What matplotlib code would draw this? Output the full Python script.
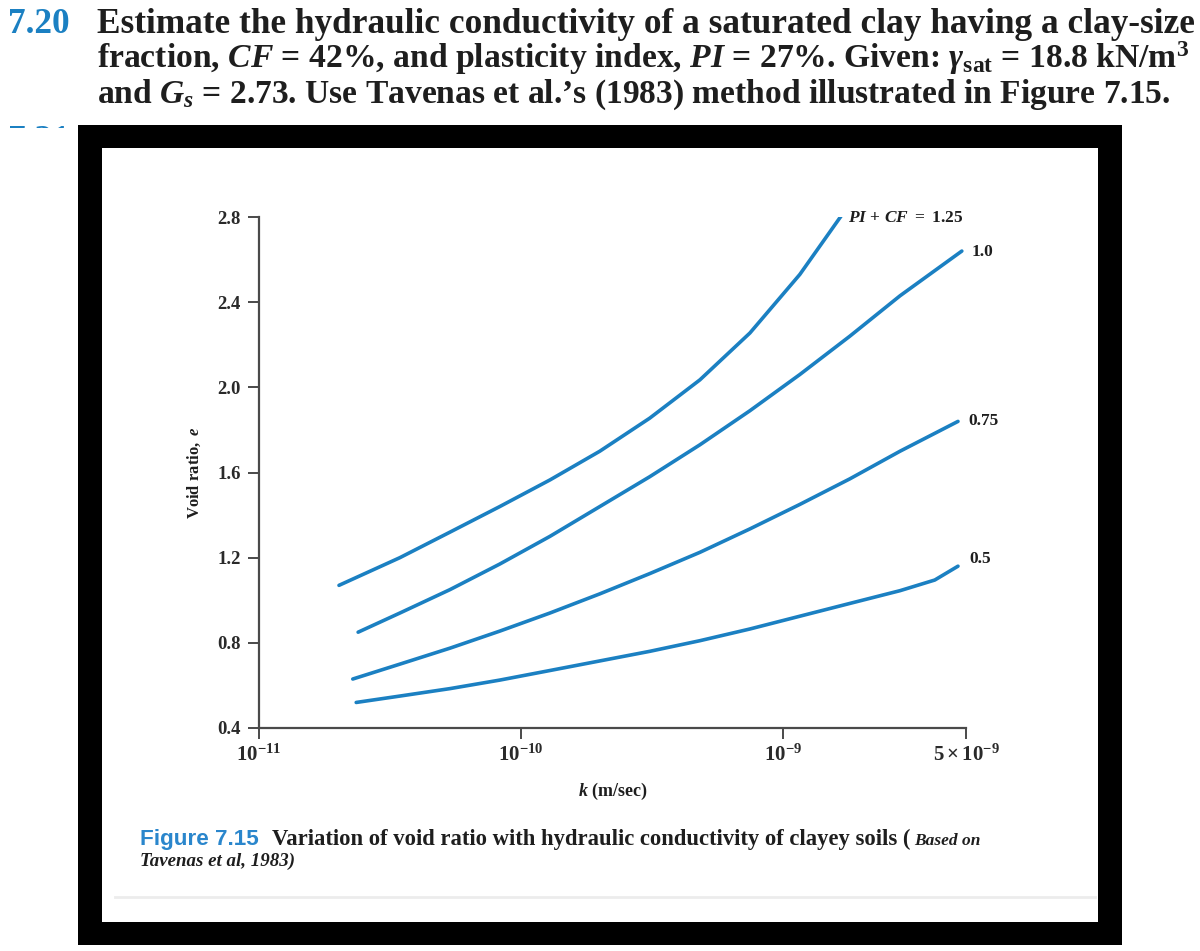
import matplotlib
matplotlib.use('Agg')
import matplotlib.pyplot as plt
from matplotlib.patches import Rectangle
from matplotlib.lines import Line2D
from matplotlib.ticker import NullLocator

plt.rcParams['font.family'] = ['Liberation Serif', 'DejaVu Serif']
plt.rcParams['font.weight'] = 'bold'
plt.rcParams['mathtext.fontset'] = 'custom'
plt.rcParams['mathtext.rm'] = 'Liberation Serif:bold'
plt.rcParams['mathtext.it'] = 'Liberation Serif:italic:bold'
plt.rcParams['mathtext.bf'] = 'Liberation Serif:bold'
plt.rcParams['mathtext.default'] = 'it'

# curves: hydraulic conductivity k (m/sec) vs void ratio e, one per PI + CF value
k_125 = [2.02e-11, 3.45e-11, 5.36e-11, 8.3e-11, 1.29e-10, 2.0e-10, 3.1e-10, 4.82e-10, 7.48e-10, 1.16e-9, 1.68e-9]
e_125 = [1.07, 1.20, 1.32, 1.44, 1.565, 1.70, 1.855, 2.035, 2.255, 2.53, 2.81]

k_100 = [2.39e-11, 3.45e-11, 5.36e-11, 8.3e-11, 1.29e-10, 2.0e-10, 3.1e-10, 4.82e-10, 7.48e-10, 1.16e-9, 1.8e-9, 2.8e-9, 4.82e-9]
e_100 = [0.85, 0.94, 1.05, 1.17, 1.30, 1.44, 1.58, 1.73, 1.89, 2.06, 2.24, 2.43, 2.64]

k_075 = [2.28e-11, 3.45e-11, 5.36e-11, 8.3e-11, 1.29e-10, 2.0e-10, 3.1e-10, 4.82e-10, 7.48e-10, 1.16e-9, 1.8e-9, 2.8e-9, 4.66e-9]
e_075 = [0.63, 0.70, 0.775, 0.855, 0.94, 1.03, 1.125, 1.225, 1.335, 1.45, 1.57, 1.70, 1.84]

k_050 = [2.35e-11, 3.45e-11, 5.36e-11, 8.3e-11, 1.29e-10, 2.0e-10, 3.1e-10, 4.82e-10, 7.48e-10, 1.16e-9, 1.8e-9, 2.8e-9, 3.8e-9, 4.66e-9]
e_050 = [0.52, 0.55, 0.585, 0.625, 0.67, 0.715, 0.76, 0.81, 0.865, 0.925, 0.985, 1.045, 1.095, 1.16]

curve_labels = ['$PI\\ \\mathbf{+}\\ CF\\ \\mathbf{=\\ 1.25}$', '1.0', '0.75', '0.5']

x_ticks = [1e-11, 1e-10, 1e-9, 5e-9]
x_ticklabels = ['$10^{-11}$', '$10^{-10}$', '$10^{-9}$', '$5\\times10^{-9}$']
y_ticks = [0.4, 0.8, 1.2, 1.6, 2.0, 2.4, 2.8]

W, H = 1200, 951
BLUE = '#1b80c2'
INK = '#1e1e1e'


def fx(x):
    return x / W


def fy(y):
    return 1 - y / H


fig = plt.figure(figsize=(12, 9.51), dpi=100)
fig.patch.set_facecolor('white')


def fit(t, width_px):
    # shrink/grow font so the text spans the same width as in the page
    fig.canvas.draw()
    w = t.get_window_extent(fig.canvas.get_renderer()).width
    t.set_fontsize(t.get_fontsize() * width_px / w)


# problem statement above the figure
t1 = fig.text(fx(97), fy(33), 'Estimate the hydraulic conductivity of a saturated clay having a clay-size',
              color=INK, fontsize=22, va='baseline')
fit(t1, 1098)
head_fs = t1.get_fontsize()
fig.text(fx(8), fy(33), '7.20', color=BLUE, fontsize=head_fs, va='baseline')
t = fig.text(fx(97), fy(68), 'fraction, $CF$ = 42%, and plasticity index, $PI$ = 27%. Given: '
             '$\\gamma_{\\mathrm{sat}}$ = 18.8 kN/m$^{3}$', color=INK, fontsize=22, va='baseline')
fit(t, 1091)
t = fig.text(fx(97), fy(103), 'and $G_{s}$ = 2.73. Use Tavenas et al.\u2019s (1983) method illustrated in Figure 7.15.',
             color=INK, fontsize=22, va='baseline')
fit(t, 1073)
fig.text(fx(8), fy(150), '7.21', color=BLUE, fontsize=head_fs, va='baseline', zorder=-3)
fig.add_artist(Rectangle((0, 0), fx(78), fy(128), transform=fig.transFigure,
                         facecolor='white', edgecolor='none', zorder=-2.5))

# black frame round the figure
fig.add_artist(Rectangle((fx(78), fy(945)), fx(1122) - fx(78), fy(125) - fy(945),
                         transform=fig.transFigure, facecolor='black', edgecolor='none', zorder=-2))
fig.add_artist(Rectangle((fx(102), fy(922)), fx(1098) - fx(102), fy(148) - fy(922),
                         transform=fig.transFigure, facecolor='white', edgecolor='none', zorder=-1))
fig.add_artist(Line2D([fx(115), fx(1095)], [fy(897), fy(897)], transform=fig.transFigure,
                      color='#ececec', lw=2, zorder=-0.5))

ax = fig.add_axes([fx(259), fy(728), fx(966) - fx(259), fy(217) - fy(728)])
ax.patch.set_alpha(0)

for k, e in [(k_125, e_125), (k_100, e_100), (k_075, e_075), (k_050, e_050)]:
    ax.plot(k, e, color=BLUE, lw=2.6, solid_capstyle='round', solid_joinstyle='round')

offsets = [(6, -3), (10, -1), (10, 0), (11, 7)]
ends = [(k_125[-1], e_125[-1]), (k_100[-1], e_100[-1]), (k_075[-1], e_075[-1]), (k_050[-1], e_050[-1])]
for lab, xy, off in zip(curve_labels, ends, offsets):
    ax.annotate(lab, xy=xy, xytext=off, textcoords='offset pixels', ha='left', va='center',
                fontsize=12.5, color=INK, annotation_clip=False)

ax.set_xscale('log')
ax.set_xlim(1e-11, 5e-9)
ax.set_ylim(0.4, 2.8)
ax.set_xticks(x_ticks)
ax.set_xticklabels(x_ticklabels)
ax.xaxis.set_minor_locator(NullLocator())
ax.set_yticks(y_ticks)
ax.set_yticklabels([f'{v:.1f}' for v in y_ticks])

for s in ['top', 'right']:
    ax.spines[s].set_visible(False)
for s in ['left', 'bottom']:
    ax.spines[s].set_color('#4a4a4a')
    ax.spines[s].set_linewidth(1.6)
ax.tick_params(direction='out', length=8, width=1.4, color='#4a4a4a', labelcolor='#2a2a2a')
ax.tick_params(axis='x', pad=4, labelsize=15)
ax.tick_params(axis='y', pad=5, labelsize=13.5)

ax.set_xlabel('$k\\ \\mathbf{(m/sec)}$', fontsize=13, color=INK)
ax.xaxis.set_label_coords(0.5, -0.104)
ax.set_ylabel('$\\mathbf{Void\\ ratio,}\\ e$', fontsize=12, color=INK)
ax.yaxis.set_label_coords(-0.079, 0.5)

# caption
t = fig.text(fx(140), fy(845), 'Figure 7.15', family='Liberation Sans', color='#2a86cc',
             fontsize=14, va='baseline')
fit(t, 119)
t = fig.text(fx(272), fy(845), 'Variation of void ratio with hydraulic conductivity of clayey soils (',
             color=INK, fontsize=14, va='baseline')
fit(t, 641)
t = fig.text(fx(914), fy(845), 'Based on', style='italic', color=INK, fontsize=11, va='baseline')
fit(t, 66)
t = fig.text(fx(140), fy(866), 'Tavenas et al, 1983)', style='italic', color=INK, fontsize=12, va='baseline')
fit(t, 155)

fig.savefig('out.png', dpi=100)
